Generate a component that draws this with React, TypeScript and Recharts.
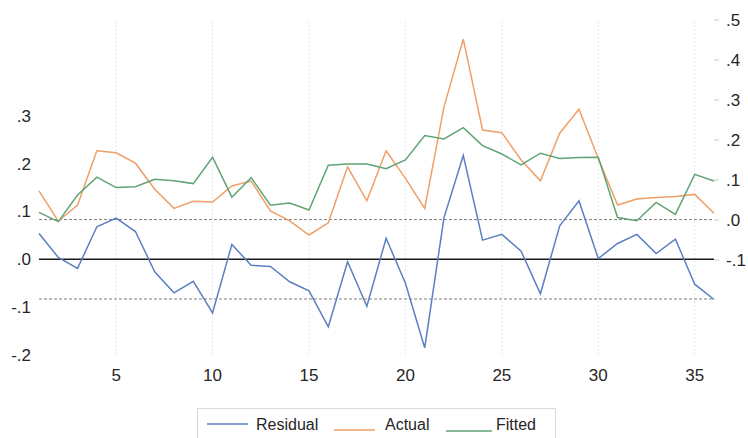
import React from 'react';
import { LineChart, Line, XAxis, YAxis, ReferenceLine } from 'recharts';

const periods = [1, 2, 3, 4, 5, 6, 7, 8, 9, 10, 11, 12, 13, 14, 15, 16, 17, 18, 19, 20, 21, 22, 23, 24, 25, 26, 27, 28, 29, 30, 31, 32, 33, 34, 35, 36];
const residual = [0.054, 0.004, -0.019, 0.068, 0.086, 0.058, -0.026, -0.07, -0.046, -0.112, 0.031, -0.0125, -0.015, -0.047, -0.066, -0.141, -0.005, -0.098, 0.044, -0.05, -0.185, 0.087, 0.217, 0.04, 0.052, 0.017, -0.072, 0.07, 0.122, 0.0015, 0.033, 0.052, 0.012, 0.042, -0.052, -0.084];
const actual = [0.073, -0.003, 0.0375, 0.173, 0.168, 0.142, 0.077, 0.029, 0.047, 0.045, 0.085, 0.0975, 0.0225, -0.002, -0.0375, -0.007, 0.133, 0.048, 0.173, 0.104, 0.029, 0.283, 0.452, 0.225, 0.218, 0.15, 0.098, 0.217, 0.277, 0.154, 0.0375, 0.0525, 0.056, 0.059, 0.064, 0.017];
const fitted = [0.019, -0.004, 0.0625, 0.107, 0.081, 0.083, 0.102, 0.098, 0.091, 0.157, 0.057, 0.106, 0.037, 0.0425, 0.025, 0.137, 0.14, 0.14, 0.128, 0.15, 0.211, 0.2025, 0.231, 0.186, 0.165, 0.1375, 0.167, 0.154, 0.156, 0.157, 0.006, -0.002, 0.044, 0.014, 0.114, 0.0975];

const xTicks = [5, 10, 15, 20, 25, 30, 35];
const leftTicks = [-0.2, -0.1, 0, 0.1, 0.2, 0.3];
const rightTicks = [-0.1, 0, 0.1, 0.2, 0.3, 0.4, 0.5];
const seBand = 0.083;

const COLORS = { residual: '#5b7fc2', actual: '#ef9f69', fitted: '#5fa475' };
const FONT = '"Liberation Sans", Arial, sans-serif';
const TEXT = '#262626';

const data = periods.map((t, i) => ({ t, residual: residual[i], actual: actual[i], fitted: fitted[i] }));

const fmt = (v: number) => {
  if (Math.abs(v) < 1e-9) return '.0';
  return v.toFixed(1).replace('0.', '.');
};

const legendItems = [
  { name: 'Residual', color: COLORS.residual, lx: 10, lw: 41, ly: 16, tx: 59 },
  { name: 'Actual', color: COLORS.actual, lx: 137, lw: 41, ly: 22, tx: 188 },
  { name: 'Fitted', color: COLORS.fitted, lx: 249, lw: 46, ly: 23, tx: 299 },
];

export default function App() {
  return (
    <div style={{ position: 'absolute', left: 0, top: 0, width: 748, height: 438, background: '#fff', fontFamily: FONT }}>
      <LineChart width={748} height={438} data={data} margin={{ top: 20, right: 0, bottom: 0, left: 0 }}>
        <XAxis
          dataKey="t"
          type="number"
          domain={[1, 36]}
          ticks={xTicks}
          height={83}
          axisLine={false}
          tickLine={false}
          tickSize={6}
          tickMargin={8}
          tick={{ fontSize: 17, fill: TEXT, fontFamily: FONT }}
        />
        <YAxis
          yAxisId="left"
          orientation="left"
          width={39}
          domain={[-0.2, 0.5]}
          ticks={leftTicks}
          allowDataOverflow
          axisLine={false}
          tickLine={false}
          tickSize={6}
          tickMargin={2}
          tickFormatter={fmt}
          tick={{ fontSize: 17, fill: TEXT, fontFamily: FONT }}
        />
        <YAxis
          yAxisId="right"
          orientation="right"
          width={34}
          domain={[-0.3375, 0.5]}
          ticks={rightTicks}
          allowDataOverflow
          axisLine={false}
          tickLine={{ stroke: '#c8c8c8' }}
          tickSize={5}
          tickMargin={7}
          tickFormatter={fmt}
          tick={{ fontSize: 17, fill: TEXT, fontFamily: FONT }}
        />
        {xTicks.map((t) => (
          <ReferenceLine key={t} yAxisId="left" x={t} stroke="#e6e6e6" strokeDasharray="2 2" strokeWidth={1} />
        ))}
        <ReferenceLine yAxisId="left" y={seBand} stroke="#808080" strokeDasharray="3 2" strokeWidth={1} />
        <ReferenceLine yAxisId="left" y={-seBand} stroke="#808080" strokeDasharray="3 2" strokeWidth={1} />
        <ReferenceLine yAxisId="left" y={0} stroke="#1a1a1a" strokeWidth={1.6} />
        <Line yAxisId="right" dataKey="actual" type="linear" stroke={COLORS.actual} strokeWidth={1.5} dot={false} isAnimationActive={false} />
        <Line yAxisId="right" dataKey="fitted" type="linear" stroke={COLORS.fitted} strokeWidth={1.5} dot={false} isAnimationActive={false} />
        <Line yAxisId="left" dataKey="residual" type="linear" stroke={COLORS.residual} strokeWidth={1.5} dot={false} isAnimationActive={false} />
      </LineChart>
      <svg style={{ position: 'absolute', left: 197, top: 408 }} width={359} height={30}>
        <rect x={0.5} y={0.5} width={358} height={40} fill="#fff" stroke="#d9d9d9" strokeWidth={1} />
        {legendItems.map((it) => (
          <g key={it.name}>
            <line x1={it.lx} x2={it.lx + it.lw} y1={it.ly} y2={it.ly} stroke={it.color} strokeWidth={1.5} />
            <text x={it.tx} y={22} fontSize={16} fill={TEXT} fontFamily={FONT}>{it.name}</text>
          </g>
        ))}
      </svg>
    </div>
  );
}
